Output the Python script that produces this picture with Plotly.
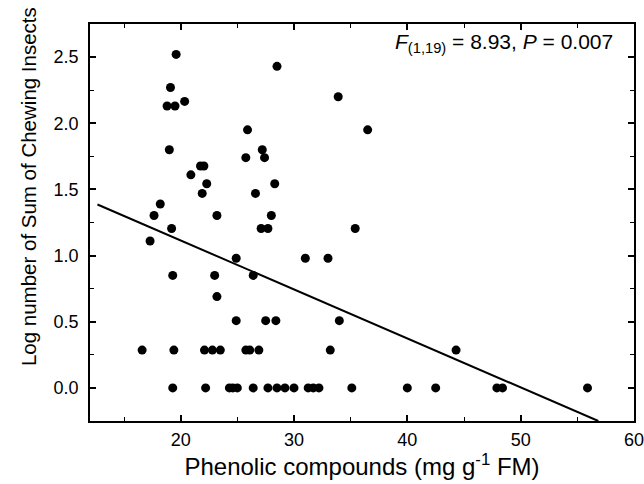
import plotly.graph_objects as go

# Scatter data
phenolic = [
    19.6, 28.5, 19.1, 33.9, 18.8, 19.5, 20.35, 25.9, 36.5,
    19.0, 27.2, 25.75, 27.4, 21.75, 22.05, 20.9, 22.3, 28.3,
    21.9, 26.6, 18.2, 17.65, 23.2, 28.0, 19.2, 27.1, 27.7, 35.4,
    17.3, 24.9, 31.0, 33.0, 19.3, 23.0, 26.4, 23.2,
    24.9, 27.5, 28.4, 34.0,
    16.6, 19.4, 22.1, 22.8, 23.5, 25.75, 26.1, 26.9, 33.2, 44.3,
    19.3, 22.2, 24.3, 24.6, 25.0, 26.4, 27.7, 28.5, 29.2, 30.0,
    31.25, 31.7, 32.2, 35.1, 40.0, 42.5, 47.9, 48.4, 55.9,
]
log_insects = [
    2.52, 2.43, 2.27, 2.20, 2.13, 2.13, 2.165, 1.95, 1.95,
    1.80, 1.80, 1.74, 1.74, 1.677, 1.677, 1.61, 1.543, 1.543,
    1.47, 1.47, 1.39, 1.303, 1.303, 1.303, 1.205, 1.205, 1.205, 1.205,
    1.11, 0.98, 0.98, 0.98, 0.85, 0.85, 0.85, 0.69,
    0.508, 0.508, 0.508, 0.508,
    0.286, 0.286, 0.286, 0.286, 0.286, 0.286, 0.286, 0.286, 0.286, 0.286,
    0, 0, 0, 0, 0, 0, 0, 0, 0, 0,
    0, 0, 0, 0, 0, 0, 0, 0, 0,
]

# Regression line endpoints
fit_x = [12.66, 56.85]
fit_y = [1.386, -0.25]

x_ticks = [20, 30, 40, 50, 60]
x_minor = [15, 25, 35, 45, 55]
y_ticks = [0.0, 0.5, 1.0, 1.5, 2.0, 2.5]
y_minor = [0.25, 0.75, 1.25, 1.75, 2.25]

x_title = "Phenolic compounds (mg g<sup>-1</sup> FM)"
y_title = "Log number of Sum of Chewing Insects"
stat_text = "<i>F</i><sub>(1,19)</sub> = 8.93, <i>P</i> = 0.007"

fig = go.Figure()
fig.add_trace(go.Scatter(
    x=phenolic, y=log_insects, mode="markers",
    marker=dict(color="black", size=9, line=dict(width=0)),
    showlegend=False, hoverinfo="skip",
))
fig.add_trace(go.Scatter(
    x=fit_x, y=fit_y, mode="lines",
    line=dict(color="black", width=2),
    showlegend=False, hoverinfo="skip",
))

font_family = "Liberation Sans, Arial, sans-serif"

fig.update_layout(
    width=644, height=484,
    margin=dict(l=90, r=10, t=24, b=63),
    paper_bgcolor="white", plot_bgcolor="white",
    font=dict(family=font_family, color="black", size=18),
    xaxis=dict(
        range=[12, 60], tickvals=x_ticks, ticktext=[str(v) for v in x_ticks],
        ticks="inside", ticklen=6, tickwidth=1.5, tickcolor="black",
        minor=dict(ticks="inside", ticklen=4, tickwidth=1.2, tickcolor="black",
                   tickvals=x_minor),
        showline=True, linecolor="black", linewidth=1.5, mirror="ticks",
        showgrid=False, zeroline=False, automargin=False,
        tickfont=dict(size=18), ticklabelstandoff=2, ticklabeloverflow="allow",
        title=dict(text=x_title, font=dict(size=24), standoff=4),
    ),
    yaxis=dict(
        range=[-0.25, 2.75], tickvals=y_ticks, ticktext=[f"{v:.1f}" for v in y_ticks],
        ticks="inside", ticklen=6, tickwidth=1.5, tickcolor="black",
        minor=dict(ticks="inside", ticklen=4, tickwidth=1.2, tickcolor="black",
                   tickvals=y_minor),
        showline=True, linecolor="black", linewidth=1.5, mirror="ticks",
        showgrid=False, zeroline=False, automargin=False,
        tickfont=dict(size=18), ticklabelstandoff=6, ticklabeloverflow="allow",
    ),
    annotations=[
        dict(
            text=stat_text, xref="paper", yref="paper", x=0.965, y=0.99,
            xanchor="right", yanchor="top", showarrow=False,
            font=dict(size=21, family=font_family),
        ),
        dict(
            text=y_title, xref="paper", yref="paper",
            x=(28 - 90) / 544, y=(420.7 - 187) / 396.7,
            xanchor="center", yanchor="middle", textangle=-90, showarrow=False,
            font=dict(size=20.5, family=font_family),
        ),
    ],
)

fig.write_html("out.html", config={"displayModeBar": False},
               post_script="document.body.style.margin='0';")
